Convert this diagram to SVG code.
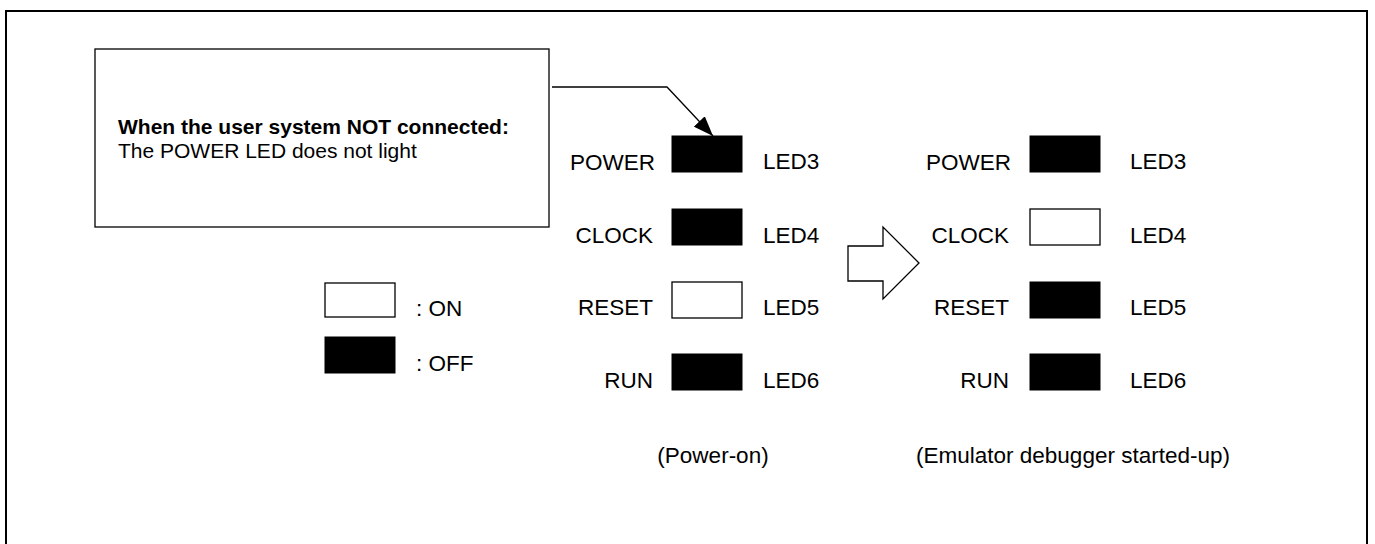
<svg xmlns="http://www.w3.org/2000/svg" width="1375" height="544" viewBox="0 0 1375 544">
  <style>
    text { font-family: "Liberation Sans", Arial, sans-serif; fill: #000; }
    .lbl { font-size: 22.5px; }
    .note { font-size: 21px; }
    .off { fill: #000; stroke: #000; stroke-width: 1; }
    .on { fill: #fff; stroke: #000; stroke-width: 1.3; }
    .line { fill: none; stroke: #000; stroke-width: 1.3; }
  </style>
  <defs>
    <marker id="ah" viewBox="0 0 20 15" refX="20" refY="7.5" markerWidth="20" markerHeight="15" markerUnits="userSpaceOnUse" orient="auto">
      <path d="M0,0 L20,7.5 L0,15 z" fill="#000"/>
    </marker>
  </defs>
  <rect width="1375" height="544" fill="#fff"/>
  <path d="M6,560 V11 H1367 V560" fill="none" stroke="#000" stroke-width="2"/>

  <g id="callout">
    <rect x="95" y="49" width="454" height="178" fill="#fff" stroke="#000" stroke-width="1.3"/>
    <text class="note" x="118" y="134" font-weight="bold">When the user system NOT connected:</text>
    <text class="note" x="118" y="158">The POWER LED does not light</text>
  </g>

  <g id="connectors">
    <polyline class="line" points="552,87 667,87 713,136" marker-end="url(#ah)"/>
  </g>

  <g id="legend">
    <rect class="on" x="325" y="283" width="70" height="34"/>
    <text class="lbl" x="416" y="316">: ON</text>
    <rect class="off" x="325" y="337" width="70" height="36"/>
    <text class="lbl" x="416" y="371">: OFF</text>
  </g>

  <g id="col-poweron">
    <text class="lbl" x="655" y="170" text-anchor="end">POWER</text>
    <rect class="off" x="672" y="136" width="70" height="36"/>
    <text class="lbl" x="763" y="169">LED3</text>
    <text class="lbl" x="653" y="243" text-anchor="end">CLOCK</text>
    <rect class="off" x="672" y="209" width="70" height="36"/>
    <text class="lbl" x="763" y="243">LED4</text>
    <text class="lbl" x="653" y="315" text-anchor="end">RESET</text>
    <rect class="on" x="672" y="282" width="70" height="36"/>
    <text class="lbl" x="763" y="315">LED5</text>
    <text class="lbl" x="653" y="388" text-anchor="end">RUN</text>
    <rect class="off" x="672" y="354" width="70" height="36"/>
    <text class="lbl" x="763" y="388">LED6</text>
    <text class="lbl" x="713" y="463" text-anchor="middle">(Power-on)</text>
  </g>

  <g id="big-arrow">
    <polygon points="848,246 883,246 883,227 919,263 883,299 883,281 848,281" fill="#fff" stroke="#000" stroke-width="1.3"/>
  </g>

  <g id="col-started">
    <text class="lbl" x="1011" y="170" text-anchor="end">POWER</text>
    <rect class="off" x="1030" y="136" width="70" height="36"/>
    <text class="lbl" x="1130" y="169">LED3</text>
    <text class="lbl" x="1009" y="243" text-anchor="end">CLOCK</text>
    <rect class="on" x="1030" y="209" width="70" height="36"/>
    <text class="lbl" x="1130" y="243">LED4</text>
    <text class="lbl" x="1009" y="315" text-anchor="end">RESET</text>
    <rect class="off" x="1030" y="282" width="70" height="36"/>
    <text class="lbl" x="1130" y="315">LED5</text>
    <text class="lbl" x="1009" y="388" text-anchor="end">RUN</text>
    <rect class="off" x="1030" y="354" width="70" height="36"/>
    <text class="lbl" x="1130" y="388">LED6</text>
    <text class="lbl" x="1073" y="463" text-anchor="middle">(Emulator debugger started-up)</text>
  </g>
</svg>
